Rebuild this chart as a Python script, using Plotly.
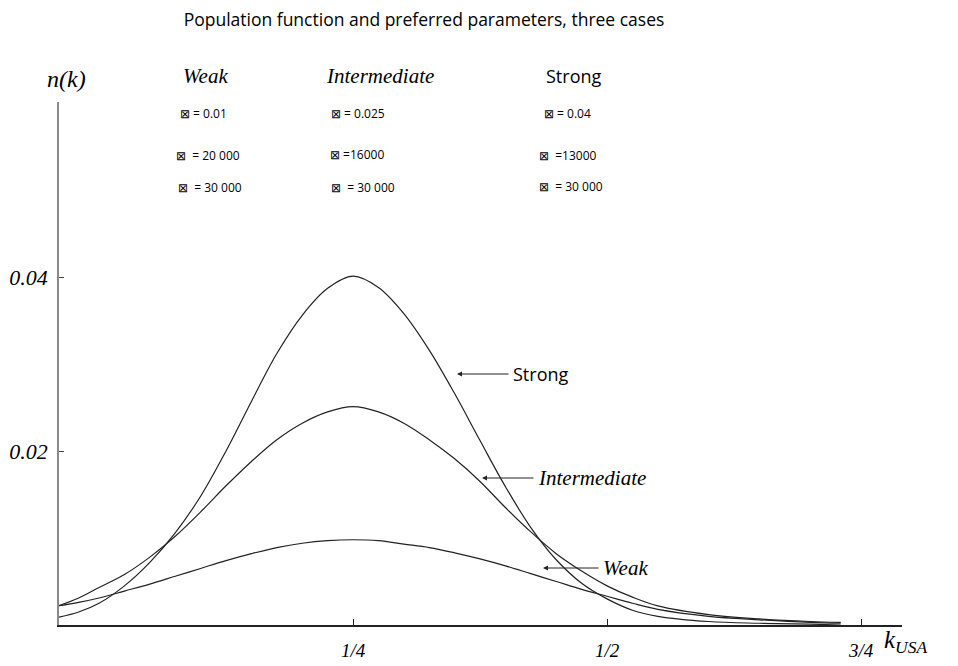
import plotly.graph_objects as go

# ---- data ----
k_values = [-0.04, -0.02, 0.0, 0.025, 0.05, 0.075, 0.1, 0.125, 0.15, 0.175, 0.2, 0.225,
            0.25, 0.275, 0.3, 0.325, 0.35, 0.375, 0.4, 0.425, 0.45, 0.475, 0.5, 0.525,
            0.55, 0.6, 0.65, 0.7, 0.73]

strong = [0.0009, 0.0015, 0.0025, 0.0045, 0.0072, 0.0106, 0.0148, 0.0200, 0.0257, 0.0312,
          0.0356, 0.0387, 0.0401, 0.0388, 0.0358, 0.0316, 0.0266, 0.0212, 0.0159, 0.0112,
          0.0075, 0.0048, 0.0030, 0.0017, 0.0010, 0.0004, 0.0002, 0.0001, 0.0000]

intermediate = [0.0022, 0.0031, 0.0043, 0.0058, 0.0078, 0.0102, 0.0130, 0.0160, 0.0188, 0.0213,
                0.0232, 0.0245, 0.0251, 0.0245, 0.0232, 0.0213, 0.0191, 0.0165, 0.0135, 0.0107,
                0.0082, 0.0062, 0.0045, 0.0032, 0.0022, 0.0012, 0.0007, 0.0004, 0.0003]

weak = [0.0022, 0.0026, 0.0031, 0.0039, 0.0047, 0.0056, 0.0065, 0.0074, 0.0082, 0.0089,
        0.0094, 0.0097, 0.0098, 0.0097, 0.0093, 0.0089, 0.0083, 0.0076, 0.0068, 0.0059,
        0.0050, 0.0041, 0.0033, 0.0025, 0.0018, 0.0010, 0.0006, 0.0003, 0.0002]

x_tick_vals = [0.25, 0.5, 0.75]
x_tick_text = ["1/4", "1/2", "3/4"]
y_tick_vals = [0.02, 0.04]
y_tick_text = ["0.02", "0.04"]

case_names = ["Weak", "Intermediate", "Strong"]
alpha_text = ["⊠ = 0.01", "⊠ = 0.025", "⊠ = 0.04"]
beta_text = ["⊠  = 20 000", "⊠ =16000", "⊠  =13000"]
gamma_text = ["⊠  = 30 000", "⊠  = 30 000", "⊠  = 30 000"]

title_text = "Population function and preferred parameters, three cases"

# ---- figure (page body adds an 8px offset) ----
OFF = 8
W, H = 958 - OFF, 666 - OFF
X0, X1, Y0, Y1 = 59, 902, 102, 625   # plot area in page pixels
L, R, T, B = X0 - OFF, W - (X1 - OFF), Y0 - OFF, H - (Y1 - OFF)
PW, PH = X1 - X0, Y1 - Y0

SERIF = "Liberation Serif"
SANS = "Open Sans"


def px(x):
    return (x - X0) / PW


def py(y):
    return (Y1 - y) / PH


fig = go.Figure()
line_style = dict(color="#222222", width=1.2, shape="spline", smoothing=1.0)
for name, vals in [("Strong", strong), ("Intermediate", intermediate), ("Weak", weak)]:
    fig.add_trace(go.Scatter(x=k_values, y=vals, mode="lines", name=name,
                             line=line_style, hoverinfo="skip"))

ann = []
# axis titles
ann.append(dict(x=px(66), y=py(79), text="<i>n(k)</i>", showarrow=False,
                font=dict(family=SERIF, size=24, color="black")))
ann.append(dict(x=px(905), y=py(641), text="<i>k</i><sub><i>USA</i></sub>", showarrow=False,
                font=dict(family=SERIF, size=25, color="black")))

# case headings and parameters
head_x = [205, 380, 574]
a_x = [203, 358, 567]
b_x = [208, 357, 568]
g_x = [210, 363, 571]
b_y = [155, 154, 155]
g_y = [187, 187, 186]
for i, name in enumerate(case_names):
    if name == "Strong":
        f = dict(family=SANS, size=18, color="black")
        t = name
    else:
        f = dict(family=SERIF, size=21, color="black")
        t = "<i>" + name + "</i>"
    ann.append(dict(x=px(head_x[i]), y=py(76), text=t, showarrow=False, font=f))
    sf = dict(family=SANS, size=12, color="black")
    ann.append(dict(x=px(a_x[i]), y=py(113), text=alpha_text[i], showarrow=False, font=sf))
    ann.append(dict(x=px(b_x[i]), y=py(b_y[i]), text=beta_text[i], showarrow=False, font=sf))
    ann.append(dict(x=px(g_x[i]), y=py(g_y[i]), text=gamma_text[i], showarrow=False, font=sf))

# arrow labels
arrows = [("Strong", 457, 510, 374, False),
          ("Intermediate", 482, 535, 478, True),
          ("Weak", 543, 600, 568, True)]
for name, hx, tx, yy, ital in arrows:
    ann.append(dict(x=px(hx), y=py(yy), ax=tx - hx, ay=0, text="", showarrow=True,
                    arrowhead=2, arrowsize=1, arrowwidth=1, arrowcolor="#222222"))
    if ital:
        ann.append(dict(x=px(tx + 1), y=py(yy), text="<i>" + name + "</i>", showarrow=False,
                        xanchor="left", font=dict(family=SERIF, size=21, color="black")))
    else:
        ann.append(dict(x=px(tx + 1), y=py(yy), text=name, showarrow=False,
                        xanchor="left", font=dict(family=SANS, size=18, color="black")))

for a in ann:
    a.setdefault("xref", "paper")
    a.setdefault("yref", "paper")
    a.setdefault("xanchor", "center")
    a.setdefault("yanchor", "middle")

fig.update_layout(
    width=W, height=H,
    margin=dict(l=L, r=R, t=T, b=B, pad=0, autoexpand=False),
    paper_bgcolor="white", plot_bgcolor="white",
    showlegend=False,
    title=dict(text=title_text, x=(424 - OFF) / W, xanchor="center",
               y=1 - (20 - OFF) / H, yanchor="middle",
               xref="container", yref="container",
               font=dict(family=SANS, size=17.5, color="black")),
    annotations=ann,
    xaxis=dict(range=[-0.0394, -0.0394 + PW / 1016], showgrid=False, zeroline=False,
               automargin=False,
               showline=True, linecolor="#222222", linewidth=1.5,
               tickmode="array", tickvals=x_tick_vals,
               ticktext=["<i>" + t + "</i>" for t in x_tick_text],
               ticks="inside", ticklen=6, tickcolor="#222222", tickwidth=1,
               ticklabelstandoff=7,
               tickfont=dict(family=SERIF, size=19, color="black")),
    yaxis=dict(range=[0, PH / 8700], showgrid=False, zeroline=False,
               automargin=False,
               showline=True, linecolor="#8a8a8a", linewidth=1.5,
               tickmode="array", tickvals=y_tick_vals,
               ticktext=["<i>" + t + "</i>" for t in y_tick_text],
               ticks="inside", ticklen=5, tickcolor="#444444", tickwidth=1,
               ticklabelstandoff=5,
               tickfont=dict(family=SERIF, size=22, color="black")),
)

fig.write_html("out.html")
